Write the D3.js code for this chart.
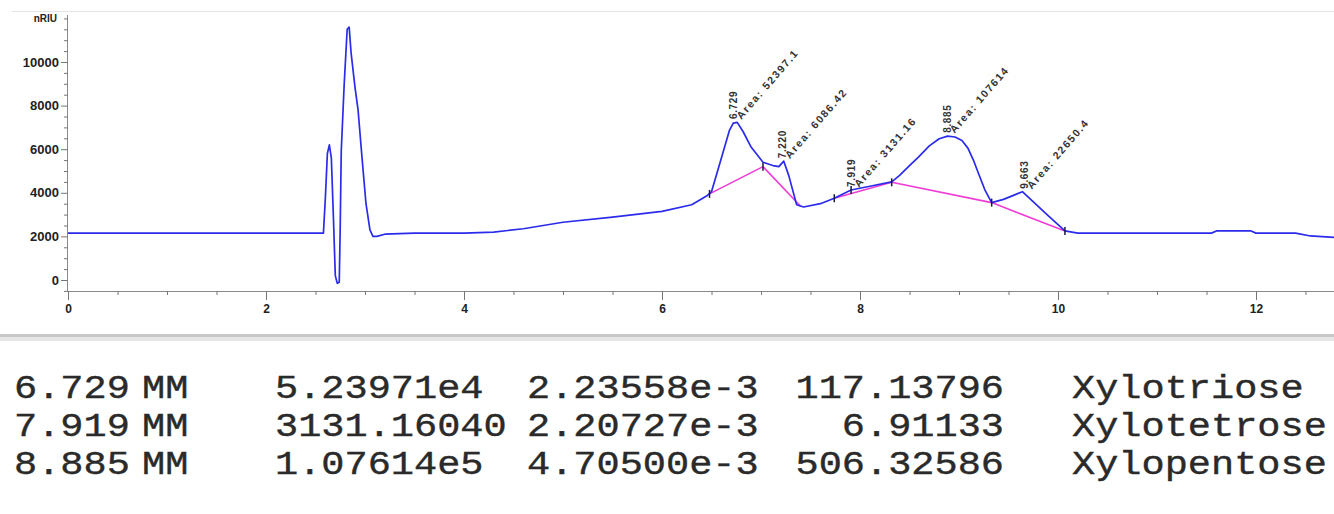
<!DOCTYPE html>
<html>
<head>
<meta charset="utf-8">
<script src="https://cdn.jsdelivr.net/npm/d3@7"></script>
<style>
  html, body { margin: 0; padding: 0; background: #fff; }
  svg { display: block; }
</style>
</head>
<body>
<svg id="chart" width="1334" height="514"></svg>
<script>
// detector trace (minutes, nRIU)
const traceTime = [0, 2.58, 2.6, 2.62, 2.64, 2.66, 2.68, 2.70, 2.72, 2.74, 2.75, 2.76, 2.79, 2.82, 2.84, 2.86, 2.9, 2.93, 2.97, 3.01, 3.05, 3.08, 3.12, 3.2, 3.5, 4.0, 4.3, 4.6, 5.0, 5.5, 6.0, 6.3, 6.45, 6.5, 6.6, 6.68, 6.72, 6.76, 6.82, 6.9, 7.02, 7.12, 7.18, 7.23, 7.28, 7.36, 7.43, 7.6, 7.74, 7.91, 8.1, 8.32, 8.4, 8.5, 8.59, 8.7, 8.8, 8.885, 8.96, 9.03, 9.09, 9.15, 9.2, 9.26, 9.33, 9.45, 9.64, 9.77, 9.9, 10.07, 10.2, 11.55, 11.6, 11.95, 12.0, 12.4, 12.55, 12.8];
const traceSignal = [2150, 2150, 3800, 5800, 6200, 5600, 3000, 200, -150, -100, 2500, 5900, 9000, 11500, 11600, 10400, 8800, 7800, 5600, 3500, 2300, 2000, 2000, 2100, 2150, 2150, 2200, 2350, 2650, 2880, 3150, 3450, 3850, 4050, 5600, 6850, 7200, 7230, 6800, 6100, 5400, 5250, 5200, 5450, 4800, 3450, 3350, 3500, 3750, 4130, 4300, 4500, 4800, 5250, 5640, 6150, 6480, 6600, 6560, 6400, 6050, 5450, 4850, 4150, 3550, 3700, 4050, 3500, 2950, 2250, 2150, 2150, 2250, 2250, 2150, 2150, 2020, 1950];

// integration baselines (pink)
const baseTime = [[6.48, 7.02], [7.02, 7.40], [7.74, 8.32], [8.32, 9.33], [9.33, 10.07]];
const baseSignal = [[3950, 5200], [5200, 3380], [3750, 4480], [4480, 3550], [3550, 2250]];

// integration event marks
const markTime = [6.48, 7.02, 7.74, 7.91, 8.32, 9.33, 10.07];
const markSignal = [3950, 5200, 3750, 4130, 4480, 3550, 2250];

// peak annotations
const peakTime = [6.729, 7.220, 7.919, 8.885, 9.663];
const peakHeight = [7250, 5450, 4130, 6620, 4050];
const peakLabel = ["6.729", "7.220", "7.919", "8.885", "9.663"];
const peakArea = ["Area: 52397.1", "Area: 6086.42", "Area: 3131.16", "Area: 107614", "Area: 22650.4"];

// axes
const xMajor = [0, 2, 4, 6, 8, 10, 12];
const yMajor = [0, 2000, 4000, 6000, 8000, 10000];
const yUnit = "nRIU";

// report table
const tableRT = ["6.729", "7.919", "8.885"];
const tableType = ["MM", "MM", "MM"];
const tableArea = ["5.23971e4", "3131.16040", "1.07614e5"];
const tableAmtArea = ["2.23558e-3", "2.20727e-3", "4.70500e-3"];
const tableAmount = ["117.13796", "6.91133", "506.32586"];
const tableName = ["Xylotriose", "Xylotetrose", "Xylopentose"];

const svg = d3.select('#chart');

const x = d3.scaleLinear().domain([0, 12]).range([68, 1256]);
const y = d3.scaleLinear().domain([0, 10000]).range([280, 62]);
const plotTop = 15, plotBottom = 291;

// frame line at top
svg.append('line')
  .attr('x1', 12).attr('x2', 1334)
  .attr('y1', 11.5).attr('y2', 11.5)
  .attr('stroke', '#e4e4e4');

// x axis
const xAxis = d3.axisBottom(x)
  .tickValues(d3.range(0, 12.81, 0.5))
  .tickSize(4)
  .tickFormat(d => xMajor.includes(d) ? d : '');
const gx = svg.append('g').attr('transform', `translate(0,${plotBottom})`).call(xAxis);
gx.select('.domain').attr('d', `M68,0.5H1334`).attr('stroke', '#8a8a8a');
gx.selectAll('.tick line').attr('stroke', '#777')
  .attr('y2', d => xMajor.includes(d) ? 9 : 4);
gx.selectAll('.tick text')
  .attr('y', 13)
  .attr('font-family', 'Liberation Sans, Arial, sans-serif')
  .attr('font-size', 12).attr('font-weight', 'bold').attr('fill', '#222');

// y axis
const yAxis = d3.axisLeft(y)
  .tickValues(d3.range(-500, 12001, 500))
  .tickSize(4)
  .tickFormat(d => yMajor.includes(d) ? d : '');
const gy = svg.append('g').attr('transform', 'translate(68,0)').call(yAxis);
gy.select('.domain').attr('d', `M-0.5,${plotTop}V${plotBottom}`).attr('stroke', '#8a8a8a');
gy.selectAll('.tick line').attr('stroke', '#777')
  .attr('x2', d => yMajor.includes(d) ? -7 : -4);
gy.selectAll('.tick text')
  .attr('x', -9)
  .attr('font-family', 'Liberation Sans, Arial, sans-serif')
  .attr('font-size', 13).attr('font-weight', 'bold').attr('fill', '#222');
svg.append('text')
  .attr('x', 57).attr('y', 22)
  .attr('text-anchor', 'end')
  .attr('font-family', 'Liberation Sans, Arial, sans-serif')
  .attr('font-size', 10).attr('font-weight', 'bold').attr('fill', '#222')
  .text(yUnit);

// baselines
const baseLine = d3.line().x(d => x(d[0])).y(d => y(d[1]));
svg.append('g').selectAll('path')
  .data(baseTime.map((t, i) => t.map((tt, j) => [tt, baseSignal[i][j]])))
  .enter().append('path')
  .attr('d', baseLine)
  .attr('fill', 'none')
  .attr('stroke', '#f03cd6')
  .attr('stroke-width', 1.6);

// trace
const trace = traceTime.map((t, i) => [t, traceSignal[i]]);
svg.append('path')
  .datum(trace)
  .attr('d', d3.line().x(d => x(d[0])).y(d => y(d[1])))
  .attr('fill', 'none')
  .attr('stroke', '#2b2bec')
  .attr('stroke-width', 1.7)
  .attr('stroke-linejoin', 'round');

// event marks
svg.append('g').selectAll('line')
  .data(markTime)
  .enter().append('line')
  .attr('x1', d => x(d)).attr('x2', d => x(d))
  .attr('y1', (d, i) => y(markSignal[i]) - 4)
  .attr('y2', (d, i) => y(markSignal[i]) + 4)
  .attr('stroke', '#1a1a40')
  .attr('stroke-width', 1.5);

// peak labels
const ann = svg.append('g')
  .attr('font-family', 'Liberation Sans, Arial, sans-serif')
  .attr('font-weight', 'bold').attr('fill', '#333');
ann.selectAll('.rt')
  .data(peakTime)
  .enter().append('text')
  .attr('class', 'rt')
  .attr('font-size', 10)
  .attr('letter-spacing', 0.6)
  .attr('transform', (d, i) => `translate(${x(d) + 3},${y(peakHeight[i]) - 3}) rotate(-90)`)
  .text((d, i) => peakLabel[i]);
ann.selectAll('.area')
  .data(peakTime)
  .enter().append('text')
  .attr('class', 'area')
  .attr('font-size', 10.5)
  .attr('letter-spacing', 1.6)
  .attr('transform', (d, i) => `translate(${x(d) + 7},${y(peakHeight[i]) - 2}) rotate(-49)`)
  .text((d, i) => peakArea[i]);

// separator
svg.append('rect').attr('x', 0).attr('y', 334).attr('width', 1334).attr('height', 3).attr('fill', '#c8c8c8');
svg.append('rect').attr('x', 0).attr('y', 337).attr('width', 1334).attr('height', 4).attr('fill', '#e6e6e6');

// report table
const rowY = d3.scalePoint().domain(d3.range(tableRT.length)).range([398, 474]);
const tbl = svg.append('g')
  .attr('font-family', 'Liberation Mono, Courier New, monospace')
  .attr('font-size', 33).attr('fill', '#2a2a2a')
  .attr('stroke', '#2a2a2a').attr('stroke-width', 0.4);
const cols = [
  { vals: tableRT, x: 14, anchor: 'start' },
  { vals: tableType, x: 142, anchor: 'start' },
  { vals: tableArea, x: 275, anchor: 'start' },
  { vals: tableAmtArea, x: 527, anchor: 'start' },
  { vals: tableAmount, x: 1004, anchor: 'end' },
  { vals: tableName, x: 1072, anchor: 'start' }
];
cols.forEach(c => {
  tbl.selectAll(null)
    .data(c.vals)
    .enter().append('text')
    .attr('transform', (d, i) => `translate(${c.x},${rowY(i)}) scale(1.17,1)`)
    .attr('text-anchor', c.anchor)
    .text(d => d);
});
</script>
</body>
</html>
